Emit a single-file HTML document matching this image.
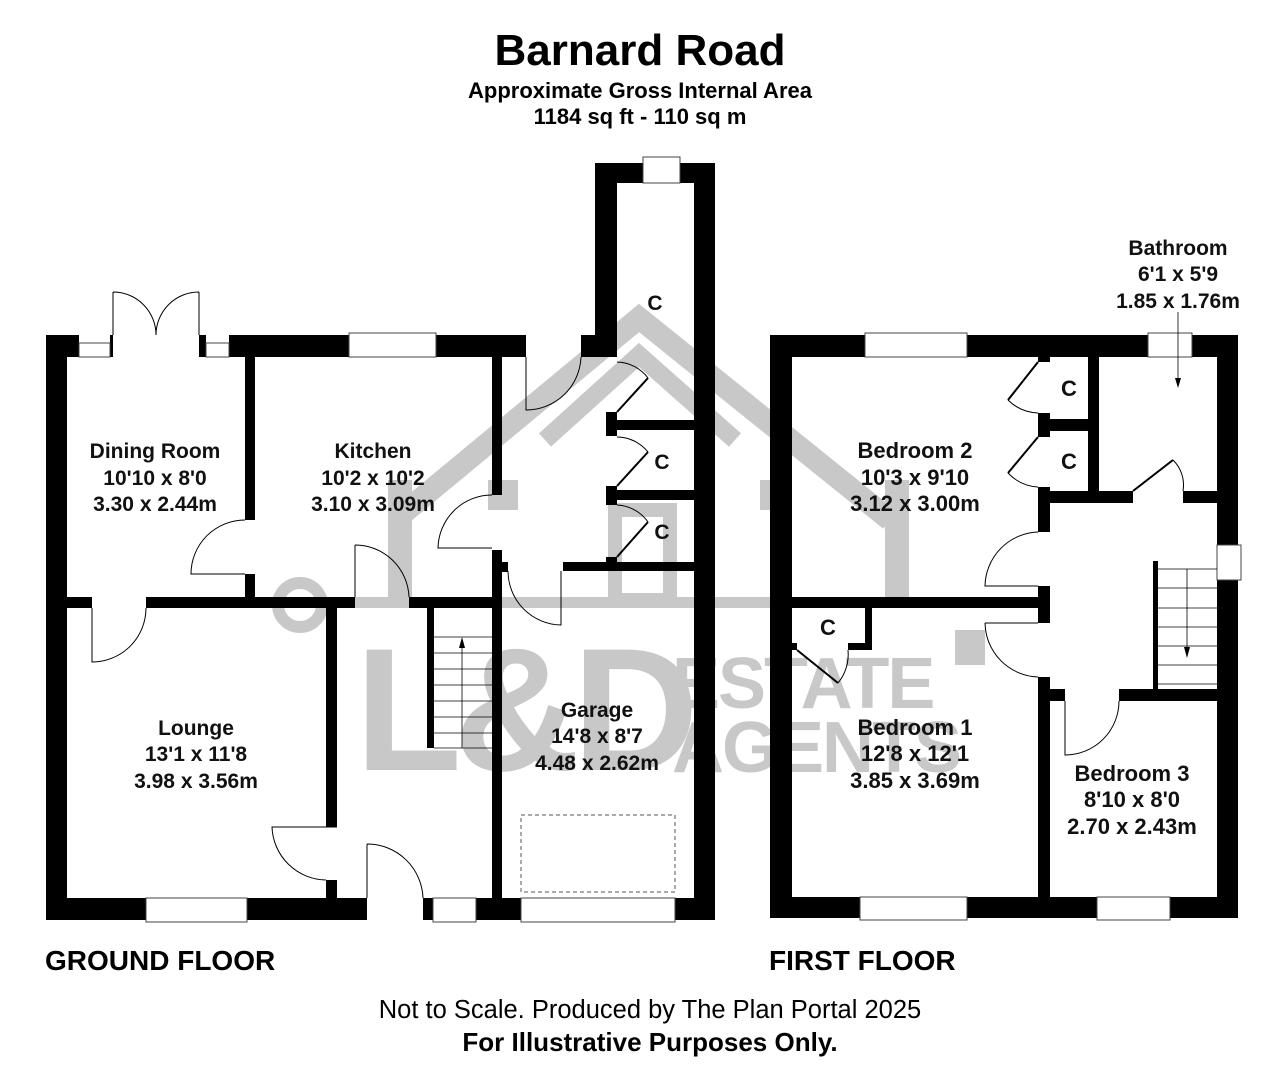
<!DOCTYPE html>
<html><head><meta charset="utf-8"><style>
html,body{margin:0;padding:0;background:#fff;}
svg{display:block;font-family:"Liberation Sans",Arial,sans-serif;}
.t{font-weight:bold;font-size:21px;text-anchor:middle;fill:#111;}
.f{font-weight:bold;font-size:22px;text-anchor:middle;fill:#111;}
</style></head><body>
<svg width="1280" height="1087" viewBox="0 0 1280 1087" xmlns="http://www.w3.org/2000/svg">
<rect width="1280" height="1087" fill="#fff"/>
<!-- watermark -->
<g fill="#c8c8c8" stroke="none">
<polyline points="395,520 639,318 890,520" fill="none" stroke="#c8c8c8" stroke-width="22"/>
<polyline points="545,440 639,355 735,440" fill="none" stroke="#c8c8c8" stroke-width="18"/>
<rect x="240" y="597" width="800" height="11"/>
<rect x="388" y="480" width="24" height="120"/>
<rect x="885" y="480" width="24" height="120"/>
<rect x="615" y="510" width="55" height="90" fill="none" stroke="#c8c8c8" stroke-width="14"/>
<rect x="488" y="480" width="30" height="30"/>
<rect x="760" y="480" width="30" height="30"/>
<circle cx="300" cy="605" r="22" fill="none" stroke="#c8c8c8" stroke-width="12"/>
<text x="355" y="770" font-size="175" font-weight="bold" letter-spacing="-8" fill="#c8c8c8">L&amp;D</text>
<text x="672" y="708" font-size="72" font-weight="bold" fill="#c8c8c8" letter-spacing="-2">ESTATE</text>
<text x="672" y="772" font-size="72" font-weight="bold" fill="#c8c8c8" letter-spacing="-2">AGENTS</text>
<rect x="955" y="630" width="30" height="35"/>
</g>
<!-- titles -->
<text x="640" y="65" font-size="44" font-weight="bold" text-anchor="middle">Barnard Road</text>
<text x="640" y="98" font-size="22" font-weight="bold" text-anchor="middle">Approximate Gross Internal Area</text>
<text x="640" y="124" font-size="22" font-weight="bold" text-anchor="middle">1184 sq ft - 110 sq m</text>
<text x="45" y="970" font-size="28" font-weight="bold">GROUND FLOOR</text>
<text x="769" y="970" font-size="28" font-weight="bold">FIRST FLOOR</text>
<text x="650" y="1018" font-size="25.5" text-anchor="middle">Not to Scale. Produced by The Plan Portal 2025</text>
<text x="650" y="1051" font-size="26" font-weight="bold" text-anchor="middle">For Illustrative Purposes Only.</text>

<!-- GROUND FLOOR walls -->
<g fill="#000">
<rect x="46" y="335" width="21" height="585"/>
<rect x="46" y="335" width="33" height="22"/>
<rect x="110" y="335" width="3" height="22"/>
<rect x="199" y="335" width="7" height="22"/>
<rect x="229" y="335" width="120" height="22"/>
<rect x="436" y="335" width="90" height="22"/>
<rect x="595" y="163" width="48" height="20"/>
<rect x="680" y="163" width="35" height="20"/>
<rect x="595" y="163" width="22" height="194"/>
<rect x="581" y="335" width="36" height="22"/>
<rect x="694" y="163" width="21" height="757"/>
<rect x="606" y="420" width="88" height="10"/>
<rect x="606" y="412" width="11" height="24"/>
<rect x="606" y="490" width="88" height="10"/>
<rect x="606" y="486" width="11" height="19"/>
<rect x="563" y="562" width="131" height="9"/>
<rect x="606" y="557" width="11" height="8"/>
<rect x="245" y="357" width="10" height="163"/>
<rect x="245" y="574" width="10" height="30"/>
<rect x="46" y="597" width="46" height="11"/>
<rect x="146" y="597" width="209" height="11"/>
<rect x="409" y="597" width="83" height="11"/>
<rect x="492" y="357" width="10" height="138"/>
<rect x="492" y="550" width="10" height="370"/>
<rect x="502" y="562" width="6" height="10"/>
<rect x="326" y="608" width="11" height="219"/>
<rect x="326" y="880" width="11" height="20"/>
<rect x="427" y="608" width="7" height="140"/>
<rect x="46" y="898" width="100" height="22"/>
<rect x="247" y="898" width="120" height="22"/>
<rect x="423" y="898" width="10" height="22"/>
<rect x="476" y="898" width="45" height="22"/>
<rect x="675" y="898" width="40" height="22"/>
</g>
<g fill="#fff" stroke="#444" stroke-width="1">
<rect x="79" y="343" width="31" height="14"/>
<rect x="206" y="343" width="23" height="14"/>
<rect x="349" y="333" width="87" height="24"/>
<rect x="643" y="157" width="37" height="26"/>
<rect x="146" y="898" width="101" height="24"/>
<rect x="433" y="898" width="43" height="24"/>
<rect x="521" y="898" width="154" height="24"/>
</g>
<g fill="none" stroke="#000" stroke-width="1">
<path d="M113 292 V335 M113 292 A43 43 0 0 1 156 335"/>
<path d="M199 292 V335 M199 292 A43 43 0 0 0 156 335"/>
<path d="M245 520 A54 54 0 0 0 191 574 H245"/>
<path d="M355 545 V597 M355 545 A54 54 0 0 1 409 597"/>
<path d="M92 608 V662 A54 54 0 0 0 146 608"/>
<path d="M337 827 H272 A55 55 0 0 0 326 880"/>
<path d="M367 844 V898 M367 844 A56 56 0 0 1 423 898"/>
<path d="M526 357 V410 A55 55 0 0 0 581 357"/>
<path d="M492 495 A54 54 0 0 0 438 548 H492"/>
<path d="M561 571 V625 A54 54 0 0 1 508 571"/>
<path d="M617 362 A40 40 0 0 1 648 378 M617 437 A40 40 0 0 1 648 452 M617 505 A40 40 0 0 1 648 522"/>
<rect x="521" y="815" width="154" height="77" stroke-dasharray="4,3" stroke="#555"/>
</g>
<g stroke="#000" stroke-width="2">
<line x1="648" y1="378" x2="617" y2="412"/>
<line x1="648" y1="452" x2="617" y2="486"/>
<line x1="648" y1="522" x2="617" y2="557"/>
</g>
<g stroke="#000" stroke-width="0.8">
<line x1="434" y1="637" x2="492" y2="637"/><line x1="434" y1="653" x2="492" y2="653"/>
<line x1="434" y1="669" x2="492" y2="669"/><line x1="434" y1="685" x2="492" y2="685"/>
<line x1="434" y1="701" x2="492" y2="701"/><line x1="434" y1="717" x2="492" y2="717"/>
<line x1="434" y1="733" x2="492" y2="733"/><line x1="434" y1="748" x2="492" y2="748"/>
<line x1="462" y1="748" x2="462" y2="645"/>
</g>
<polygon points="462,637 459,648 465,648" fill="#000"/>

<text class="t" x="155" y="458">Dining Room</text>
<text class="t" x="155" y="485">10'10 x 8'0</text>
<text class="t" x="155" y="511">3.30 x 2.44m</text>
<text class="t" x="373" y="458">Kitchen</text>
<text class="t" x="373" y="485">10'2 x 10'2</text>
<text class="t" x="373" y="511">3.10 x 3.09m</text>
<text class="t" x="196" y="735">Lounge</text>
<text class="t" x="196" y="761">13'1 x 11'8</text>
<text class="t" x="196" y="788">3.98 x 3.56m</text>
<text class="t" x="597" y="717">Garage</text>
<text class="t" x="597" y="743">14'8 x 8'7</text>
<text class="t" x="597" y="770">4.48 x 2.62m</text>
<text class="t" x="655" y="310">C</text>
<text class="t" x="662" y="469">C</text>
<text class="t" x="662" y="539">C</text>

<!-- FIRST FLOOR -->
<g fill="#000">
<rect x="770" y="335" width="22" height="583"/>
<rect x="1217" y="335" width="21" height="210"/>
<rect x="1217" y="580" width="21" height="338"/>
<rect x="770" y="335" width="95" height="22"/>
<rect x="967" y="335" width="181" height="22"/>
<rect x="1192" y="335" width="46" height="22"/>
<rect x="770" y="897" width="90" height="21"/>
<rect x="967" y="897" width="130" height="21"/>
<rect x="1170" y="897" width="68" height="21"/>
<rect x="792" y="597" width="246" height="11"/>
<rect x="1038" y="357" width="12" height="5"/>
<rect x="1038" y="413" width="12" height="24"/>
<rect x="1038" y="487" width="12" height="45"/>
<rect x="1038" y="586" width="12" height="37"/>
<rect x="1038" y="677" width="12" height="220"/>
<rect x="1050" y="419" width="38" height="12"/>
<rect x="1088" y="357" width="11" height="146"/>
<rect x="1050" y="491" width="83" height="12"/>
<rect x="1183" y="491" width="34" height="12"/>
<rect x="1153" y="561" width="5" height="128"/>
<rect x="1050" y="689" width="15" height="12"/>
<rect x="1119" y="689" width="98" height="12"/>
<rect x="865" y="608" width="7" height="42"/>
<rect x="848" y="643" width="24" height="7"/>
<rect x="792" y="643" width="5" height="7"/>
</g>
<g fill="#fff" stroke="#444" stroke-width="1">
<rect x="865" y="333" width="102" height="24"/>
<rect x="1148" y="333" width="44" height="24"/>
<rect x="860" y="897" width="107" height="23"/>
<rect x="1097" y="897" width="73" height="23"/>
<rect x="1217" y="545" width="24" height="35"/>
</g>
<g fill="none" stroke="#000" stroke-width="1">
<path d="M1038 532 A55 55 0 0 0 985 586 H1038"/>
<path d="M985 623 A55 55 0 0 0 1038 677"/>
<line x1="985" y1="623" x2="1038" y2="623"/>
<path d="M1065 701 V755 A54 54 0 0 0 1119 701"/>
<path d="M1173 460 A35 35 0 0 1 1183 491"/>
<path d="M1008 400 A45 45 0 0 0 1038 413 M1008 473 A45 45 0 0 0 1038 487"/>
<path d="M848 650 A45 45 0 0 1 838 683"/>
</g>
<g stroke="#000" stroke-width="2">
<line x1="1008" y1="400" x2="1038" y2="362"/>
<line x1="1008" y1="473" x2="1038" y2="437"/>
<line x1="1133" y1="491" x2="1173" y2="460"/>
<line x1="797" y1="650" x2="838" y2="683"/>
</g>
<g stroke="#000" stroke-width="0.8">
<line x1="1158" y1="569" x2="1217" y2="569"/><line x1="1158" y1="588" x2="1217" y2="588"/>
<line x1="1158" y1="608" x2="1217" y2="608"/><line x1="1158" y1="627" x2="1217" y2="627"/>
<line x1="1158" y1="646" x2="1217" y2="646"/><line x1="1158" y1="665" x2="1217" y2="665"/>
<line x1="1158" y1="684" x2="1217" y2="684"/>
<line x1="1187" y1="569" x2="1187" y2="650"/>
<line x1="1178" y1="312" x2="1178" y2="380"/>
</g>
<polygon points="1187,658 1184,647 1190,647" fill="#000"/>
<polygon points="1178,388 1175,378 1181,378" fill="#000"/>

<text class="f" x="915" y="458">Bedroom 2</text>
<text class="f" x="915" y="485">10'3 x 9'10</text>
<text class="f" x="915" y="511">3.12 x 3.00m</text>
<text class="f" x="915" y="735">Bedroom 1</text>
<text class="f" x="915" y="761">12'8 x 12'1</text>
<text class="f" x="915" y="788">3.85 x 3.69m</text>
<text class="f" x="1132" y="781">Bedroom 3</text>
<text class="f" x="1132" y="807">8'10 x 8'0</text>
<text class="f" x="1132" y="834">2.70 x 2.43m</text>
<text class="t" x="1178" y="255">Bathroom</text>
<text class="t" x="1178" y="281">6'1 x 5'9</text>
<text class="t" x="1178" y="308">1.85 x 1.76m</text>
<text class="f" x="1069" y="396">C</text>
<text class="f" x="1069" y="469">C</text>
<text class="f" x="828" y="635">C</text>
</svg>
</body></html>
